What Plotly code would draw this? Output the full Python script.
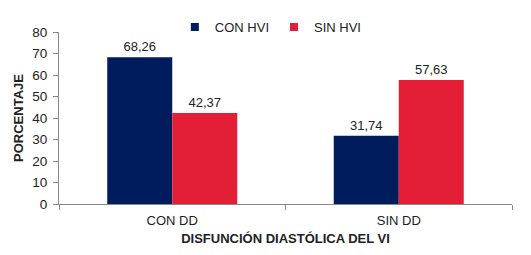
import plotly.graph_objects as go

categories = ["CON DD", "SIN DD"]
con_hvi = [68.26, 31.74]
sin_hvi = [42.37, 57.63]
series_names = ["CON HVI", "SIN HVI"]
colors = ["#001C5C", "#E31E36"]

def fmt(v):
    return f"{v:.2f}".replace(".", ",")

fig = go.Figure()
for name, vals, col in zip(series_names, [con_hvi, sin_hvi], colors):
    fig.add_trace(go.Bar(x=categories, y=vals, name=name, showlegend=False,
                         marker=dict(color=col, line=dict(width=0)),
                         text=[fmt(v) for v in vals], textposition="outside",
                         textfont=dict(size=13, color="#222"), cliponaxis=False))
for name, col in zip(series_names, colors):
    fig.add_trace(go.Scatter(x=[None], y=[None], mode="markers", name=name,
                             marker=dict(symbol="square", size=8, color=col)))

fig.update_layout(
    width=531, height=255,
    margin=dict(l=51, r=27, t=24, b=59, autoexpand=False),
    paper_bgcolor="white", plot_bgcolor="white",
    font=dict(family="Liberation Sans, Arial, sans-serif", size=13, color="#222"),
    barmode="group", bargap=0.426, bargroupgap=0,
    showlegend=True,
    legend=dict(orientation="h", x=0.495, xanchor="center", xref="container",
                y=1 - 19 / 255, yanchor="middle", yref="container",
                font=dict(size=13), itemwidth=30, traceorder="normal",
                bgcolor="rgba(0,0,0,0)", tracegroupgap=0),
)
fig.update_xaxes(showline=True, linecolor="#888", linewidth=1,
                 ticks="outside", ticklen=5, tickcolor="#888",
                 tickson="boundaries", showgrid=False, automargin=False,
                 ticklabelstandoff=4,
                 title=dict(text="<b>DISFUNCIÓN DIASTÓLICA DEL VI</b>", font=dict(size=13), standoff=7),
                 tickfont=dict(size=13))
fig.update_yaxes(range=[0, 80], dtick=10, showline=True, linecolor="#888", linewidth=1,
                 ticks="outside", ticklen=5, tickcolor="#888", showgrid=False, zeroline=False,
                 automargin=False, ticklabelstandoff=3,
                 title=dict(text="<b>PORCENTAJE</b>", font=dict(size=13), standoff=5),
                 tickfont=dict(size=13.5))

fig.write_html("out.html")
